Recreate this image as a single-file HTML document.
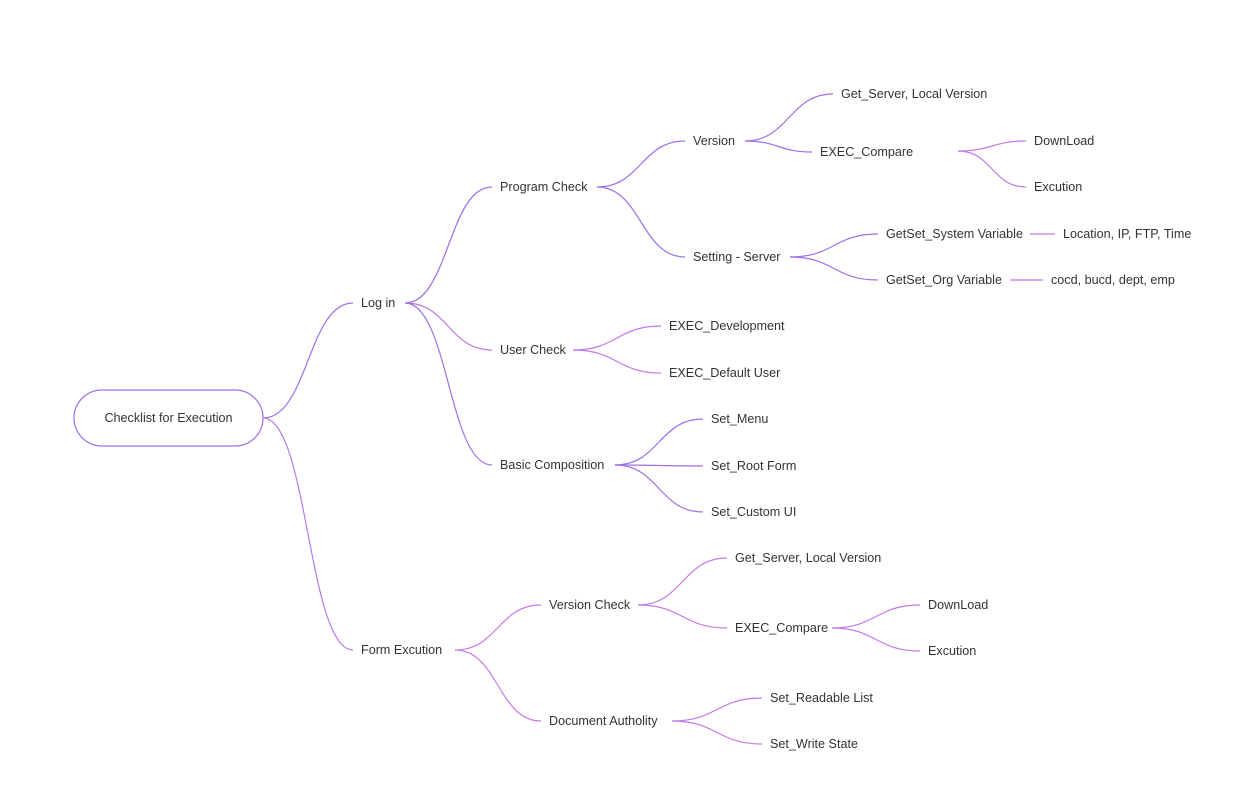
<!DOCTYPE html>
<html><head><meta charset="utf-8"><style>
html,body{margin:0;padding:0;background:#fff;}
svg{display:block;}
text{font-family:"Liberation Sans",sans-serif;font-size:12.6px;fill:#333;dominant-baseline:central;}
</style></head><body>
<svg id="s" width="1233" height="810" viewBox="0 0 1233 810" xmlns="http://www.w3.org/2000/svg">
<rect x="74" y="390" width="189" height="56" rx="28" fill="#fff" stroke="#9d70e8" stroke-width="1.2"/>
<text x="168.5" y="418" text-anchor="middle">Checklist for Execution</text>
<text x="361" y="303">Log in</text>
<text x="361" y="650">Form Excution</text>
<text x="500" y="187">Program Check</text>
<text x="500" y="350">User Check</text>
<text x="500" y="465">Basic Composition</text>
<text x="693" y="141">Version</text>
<text x="693" y="257">Setting - Server</text>
<text x="841" y="94">Get_Server, Local Version</text>
<text x="820" y="152">EXEC_Compare</text>
<text x="1034" y="141">DownLoad</text>
<text x="1034" y="187">Excution</text>
<text x="886" y="234">GetSet_System Variable</text>
<text x="1063" y="234">Location, IP, FTP, Time</text>
<text x="886" y="280">GetSet_Org Variable</text>
<text x="1051" y="280">cocd, bucd, dept, emp</text>
<text x="669" y="326">EXEC_Development</text>
<text x="669" y="373">EXEC_Default User</text>
<text x="711" y="419">Set_Menu</text>
<text x="711" y="466">Set_Root Form</text>
<text x="711" y="512">Set_Custom UI</text>
<text x="549" y="605">Version Check</text>
<text x="549" y="721">Document Autholity</text>
<text x="735" y="558">Get_Server, Local Version</text>
<text x="735" y="628">EXEC_Compare</text>
<text x="928" y="605">DownLoad</text>
<text x="928" y="651">Excution</text>
<text x="770" y="698">Set_Readable List</text>
<text x="770" y="744">Set_Write State</text>
<g id="e" fill="none" stroke-width="1.2"></g>
</svg>
<script>
var E=[
[263,418,353,303,'#9d70e8'],[263,418,353,650,'#b77ae8'],
[405,303,492,187,'#9d70e8'],[405,303,492,350,'#b77ae8'],[405,303,492,465,'#9d70e8'],
[597,187,685,141,'#9d70e8'],[597,187,685,257,'#9d70e8'],
[745,141,833,94,'#9d70e8'],[745,141,812,152,'#9d70e8'],
[958,151,1026,141,'#c27ae8'],[958,151,1026,187,'#c27ae8'],
[790,257,878,234,'#9d70e8'],[790,257,878,280,'#9d70e8'],
[1030,234,1055,234,'#c27ae8'],[1010,280,1043,280,'#c27ae8'],
[573,350,661,326,'#c27ae8'],[573,350,661,373,'#c27ae8'],
[615,465,703,419,'#9d70e8'],[615,465,703,466,'#9d70e8'],[615,465,703,512,'#9d70e8'],
[455,650,541,605,'#c27ae8'],[455,650,541,721,'#c27ae8'],
[638,605,727,558,'#c27ae8'],[638,605,727,628,'#c27ae8'],
[832,628,920,605,'#c27ae8'],[832,628,920,651,'#c27ae8'],
[672,721,762,698,'#c27ae8'],[672,721,762,744,'#c27ae8']];
var g=document.getElementById('e'),h='';
E.forEach(function(a){var dx=a[2]-a[0];h+='<path stroke="'+a[4]+'" d="M'+a[0]+' '+a[1]+' C'+(a[0]+dx*0.5)+' '+a[1]+' '+(a[2]-dx*0.5)+' '+a[3]+' '+a[2]+' '+a[3]+'"/>';});
g.innerHTML=h;
</script>
</body></html>
